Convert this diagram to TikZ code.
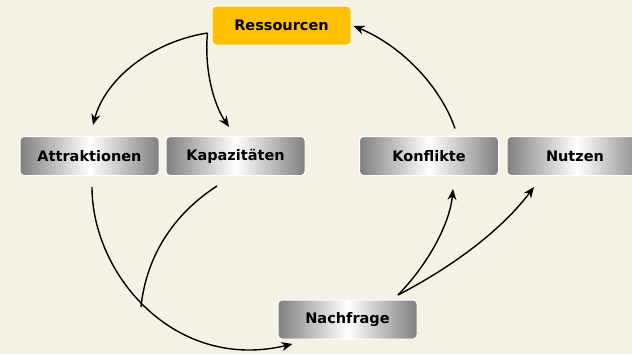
\documentclass[tikz,border=0pt]{standalone}
\usepackage{fontspec}
\setmainfont{DejaVu Sans}
\usetikzlibrary{arrows.meta}
\definecolor{bg}{RGB}{245,241,228}
\definecolor{orng}{RGB}{255,192,0}
\tikzset{
  box/.style={rounded corners=4pt, minimum width=139pt, minimum height=39pt,
    draw=white, line width=1pt, font=\fontsize{14.5}{17}\selectfont\bfseries, inner sep=0pt},
  greybox/.style={box, left color=black!50, right color=black!50, middle color=white},
  orangebox/.style={box, fill=orng},
  conn/.style={line width=1.4pt, draw=black},
  arr/.style={conn, -{Stealth[length=11pt,width=9pt]}}
}
\begin{document}
\begin{tikzpicture}[x=1pt,y=-1pt]
\fill[bg] (0,0) rectangle (632,354);
\useasboundingbox (0,0) rectangle (632,354);
\begin{scope}
\clip (0,0) rectangle (632,354);
\node[orangebox] (res) at (281.5,25.5) {Ressourcen};
\node[greybox] (att) at (89.5,156) {Attraktionen};
\node[greybox] (kap) at (235.5,156) {Kapazitäten};
\node[greybox] (kon) at (429,156) {Konflikte};
\node[greybox] (nut) at (576.5,156) {};
\node[font=\fontsize{14.5}{17}\selectfont\bfseries] (nutl) at (575,156) {Nutzen};
\node[greybox] (nach) at (347.5,319.5) {Nachfrage};
\end{scope}
\coordinate (rs) at ([xshift=-4pt,yshift=-7.5pt]res.west);
\coordinate (nq) at ([xshift=50.5pt,yshift=24.5pt]nach.center);
\coordinate (j) at (141,307);
% Ressourcen -> Attraktionen
\draw[arr] (rs) .. controls (150,42) and (105,80) .. ([xshift=3.5pt,yshift=11pt]att.north);
% Ressourcen -> Kapazitaeten
\draw[arr] (rs) .. controls (204,70) and (214,105) .. ([xshift=-6.5pt,yshift=9pt]kap.north);
% Konflikte -> Ressourcen
\draw[arr] ([xshift=26pt,yshift=7.5pt]kon.north) .. controls (440,85) and (400,45) .. ([xshift=2pt,yshift=-0.5pt]res.east);
% Nachfrage -> Konflikte
\draw[arr] (nq) .. controls (430,262) and (450,222) .. ([xshift=24pt,yshift=-13pt]kon.south);
% Nachfrage -> Nutzen
\draw[arr] (nq) .. controls (450,268) and (500,232) .. ([xshift=27.5pt,yshift=-11pt]nut.south west);
% Attraktionen -> Nachfrage
\draw[arr] ([xshift=2.5pt,yshift=-11pt]att.south) .. controls (92,275) and (175,372) .. ([xshift=15pt,yshift=-4.5pt]nach.south west);
% Kapazitaeten -> join
\draw[conn] ([xshift=-18.5pt,yshift=-10pt]kap.south) .. controls (172,215) and (146,258) .. (j);
\end{tikzpicture}
\end{document}
